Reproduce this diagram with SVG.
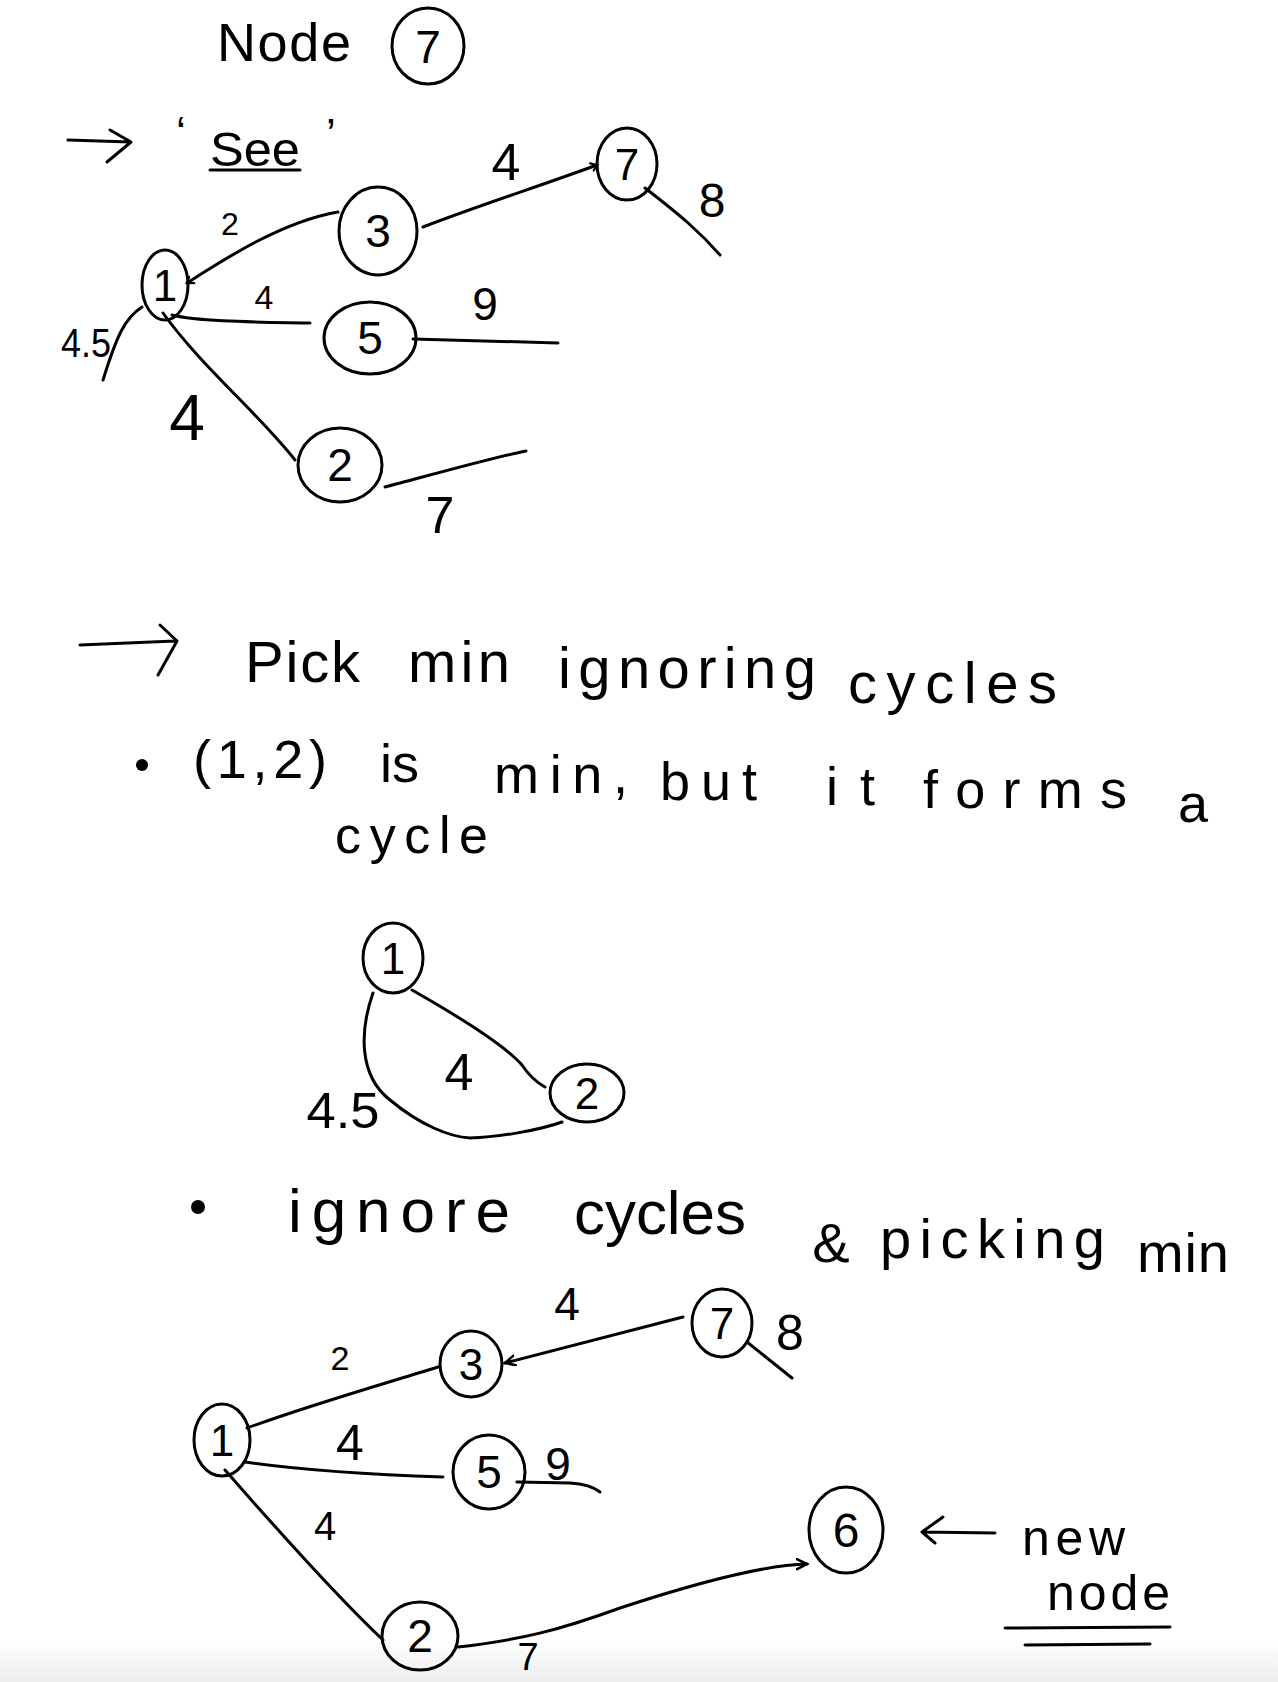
<svg xmlns="http://www.w3.org/2000/svg" width="1278" height="1682" viewBox="0 0 1278 1682">
<style>
.ln{fill:none;stroke:#000;stroke-width:3;stroke-linecap:round;stroke-linejoin:round}
.nd{fill:none;stroke:#000;stroke-width:3}
.t{font-family:"Liberation Sans",Arial,sans-serif;fill:#000}
.c{text-anchor:middle}
</style>
<defs>
<marker id="ah" markerUnits="userSpaceOnUse" markerWidth="16" markerHeight="16" refX="11" refY="6" orient="auto-start-reverse">
<path d="M1,1 L11,6 L1,11" fill="none" stroke="#000" stroke-width="2.5" stroke-linecap="round"/>
</marker>
<marker id="tick" markerUnits="userSpaceOnUse" markerWidth="12" markerHeight="12" refX="8" refY="5" orient="auto-start-reverse">
<path d="M2,1 L8,5 L3,9" fill="none" stroke="#000" stroke-width="2.2" stroke-linecap="round"/>
</marker>
<linearGradient id="fade" x1="0" y1="0" x2="0" y2="1">
<stop offset="0" stop-color="#ffffff"/>
<stop offset="1" stop-color="#ededed"/>
</linearGradient>
</defs>
<rect x="0" y="0" width="1278" height="1682" fill="#ffffff"/>
<rect x="0" y="1640" width="1278" height="42" fill="url(#fade)"/>

<!-- Title -->
<g id="title">
<text class="t" x="217" y="61" font-size="54" textLength="134" lengthAdjust="spacing">Node</text>
<ellipse class="nd" cx="428" cy="46" rx="36" ry="38"/>
<text class="t c" x="428" y="63" font-size="46">7</text>
</g>

<g id="see">
<path class="ln" d="M68,140 L130,142 M110,130 L131,142 L107,162"/>
<text class="t" x="176" y="148" font-size="44">‘</text>
<text class="t" x="210" y="166" font-size="48" textLength="90" lengthAdjust="spacingAndGlyphs">See</text>
<path class="ln" d="M210,170 L300,170"/>
<text class="t" x="326" y="150" font-size="44">’</text>
</g>

<!-- Top graph connectors -->
<g id="top-edges">
<path class="ln" d="M187,283 C220,262 280,222 338,212" marker-start="url(#tick)"/>
<path class="ln" d="M423,227 C480,205 540,186 597,165" marker-end="url(#tick)"/>
<path class="ln" d="M645,188 C680,215 700,232 720,255"/>
<path class="ln" d="M172,315 C200,322 260,322 310,323"/>
<path class="ln" d="M413,339 L558,343"/>
<path class="ln" d="M163,313 C200,365 260,415 295,460"/>
<path class="ln" d="M385,487 C420,478 490,458 526,451"/>
<path class="ln" d="M142,307 C125,318 117,335 103,380"/>
<text class="t c" x="230" y="235" font-size="32">2</text>
<text class="t c" x="506" y="180" font-size="52">4</text>
<text class="t c" x="712" y="217" font-size="48">8</text>
<text class="t c" x="264" y="309" font-size="34">4</text>
<text class="t c" x="485" y="320" font-size="46">9</text>
<text class="t c" x="187" y="440" font-size="64">4</text>
<text class="t c" x="86" y="357" font-size="40" textLength="50" lengthAdjust="spacingAndGlyphs">4.5</text>
<text class="t c" x="440" y="533" font-size="52">7</text>
</g>

<g id="top-n1"><ellipse class="nd" cx="165" cy="285" rx="23" ry="35"/><text class="t c" x="165" y="301" font-size="44">1</text></g>
<g id="top-n3"><ellipse class="nd" cx="378" cy="231" rx="39" ry="44"/><text class="t c" x="378" y="247" font-size="46">3</text></g>
<g id="top-n7"><ellipse class="nd" cx="627" cy="164" rx="30" ry="36"/><text class="t c" x="627" y="180" font-size="44">7</text></g>
<g id="top-n5"><ellipse class="nd" cx="370" cy="338" rx="46" ry="36"/><text class="t c" x="370" y="354" font-size="46">5</text></g>
<g id="top-n2"><ellipse class="nd" cx="340" cy="465" rx="42" ry="37"/><text class="t c" x="340" y="481" font-size="46">2</text></g>

<!-- Middle text -->
<g id="pick">
<path class="ln" d="M80,645 L175,641 M160,625 L177,641 L158,675"/>
<text class="t" y="682" font-size="58">
<tspan x="245" textLength="115" lengthAdjust="spacing">Pick</tspan>
<tspan x="408" textLength="102" lengthAdjust="spacing">min</tspan>
<tspan x="558" y="688" textLength="258" lengthAdjust="spacing">ignoring</tspan>
<tspan x="848" y="703" textLength="209" lengthAdjust="spacing">cycles</tspan>
</text>
</g>
<g id="note1">
<circle cx="142" cy="765" r="6" fill="#000"/>
<text class="t" font-size="54">
<tspan x="193" y="778" textLength="134" lengthAdjust="spacing">(1,2)</tspan>
<tspan x="380" y="782">is</tspan>
<tspan x="494" y="793" textLength="134" lengthAdjust="spacing">min,</tspan>
<tspan x="660" y="800" textLength="97" lengthAdjust="spacing">but</tspan>
<tspan x="826" y="805" textLength="49" lengthAdjust="spacing">it</tspan>
<tspan x="923" y="808" textLength="204" lengthAdjust="spacing">forms</tspan>
<tspan x="1178" y="822">a</tspan>
</text>
<text class="t" x="335" y="853" font-size="52" textLength="153" lengthAdjust="spacing">cycle</text>
</g>

<!-- Cycle graph -->
<g id="cycle-edges">
<path class="ln" d="M412,990 Q500,1040 522,1065 Q532,1080 545,1087"/>
<path class="ln" d="M373,993 C360,1030 358,1075 390,1100 C420,1125 450,1137 470,1138 C500,1137 540,1130 562,1122"/>
<text class="t c" x="459" y="1090" font-size="52">4</text>
<text class="t c" x="343" y="1128" font-size="50" textLength="73" lengthAdjust="spacingAndGlyphs">4.5</text>
</g>
<g id="cyc-n1"><ellipse class="nd" cx="393" cy="958" rx="30" ry="35"/><text class="t c" x="393" y="974" font-size="44">1</text></g>
<g id="cyc-n2"><ellipse class="nd" cx="587" cy="1093" rx="37" ry="29"/><text class="t c" x="587" y="1109" font-size="44">2</text></g>

<!-- Bottom text -->
<g id="note2">
<circle cx="198" cy="1207" r="7" fill="#000"/>
<text class="t" font-size="62">
<tspan x="288" y="1232" textLength="222" lengthAdjust="spacing">ignore</tspan>
<tspan x="574" y="1234" textLength="172" lengthAdjust="spacing">cycles</tspan>
</text>
<text class="t c" x="831" y="1262" font-size="56">&amp;</text>
<text class="t" font-size="56">
<tspan x="880" y="1258" textLength="225" lengthAdjust="spacing">picking</tspan>
<tspan x="1137" y="1272" textLength="92" lengthAdjust="spacing">min</tspan>
</text>
</g>

<!-- Bottom graph connectors -->
<g id="bottom-edges">
<path class="ln" d="M247,1428 C310,1405 380,1385 438,1367"/>
<path class="ln" d="M683,1317 L505,1363" marker-end="url(#ah)"/>
<path class="ln" d="M747,1342 L792,1378"/>
<path class="ln" d="M245,1462 C300,1470 383,1475 443,1477"/>
<path class="ln" d="M517,1482 L570,1483 C585,1484 595,1488 600,1492"/>
<path class="ln" d="M225,1470 C260,1510 330,1590 383,1640"/>
<path class="ln" d="M458,1647 C520,1640 560,1630 620,1608 C690,1585 760,1565 807,1564" marker-end="url(#ah)"/>
<text class="t c" x="340" y="1370" font-size="34">2</text>
<text class="t c" x="567" y="1320" font-size="46">4</text>
<text class="t c" x="790" y="1350" font-size="50">8</text>
<text class="t c" x="350" y="1460" font-size="50">4</text>
<text class="t c" x="558" y="1480" font-size="46">9</text>
<text class="t c" x="325" y="1540" font-size="40">4</text>
<text class="t c" x="528" y="1670" font-size="38">7</text>
</g>
<g id="bot-n1"><ellipse class="nd" cx="222" cy="1440" rx="28" ry="36"/><text class="t c" x="222" y="1456" font-size="44">1</text></g>
<g id="bot-n3"><ellipse class="nd" cx="471" cy="1364" rx="31" ry="33"/><text class="t c" x="471" y="1380" font-size="44">3</text></g>
<g id="bot-n7"><ellipse class="nd" cx="722" cy="1323" rx="30" ry="34"/><text class="t c" x="722" y="1339" font-size="44">7</text></g>
<g id="bot-n5"><ellipse class="nd" cx="489" cy="1472" rx="36" ry="37"/><text class="t c" x="489" y="1488" font-size="46">5</text></g>
<g id="bot-n6"><ellipse class="nd" cx="846" cy="1530" rx="37" ry="43"/><text class="t c" x="846" y="1547" font-size="48">6</text></g>
<g id="bot-n2"><ellipse class="nd" cx="420" cy="1636" rx="38" ry="34"/><text class="t c" x="420" y="1652" font-size="46">2</text></g>

<g id="newnode">
<path class="ln" d="M995,1533 L922,1532 M943,1517 L922,1532 L935,1543"/>
<text class="t" x="1022" y="1555" font-size="50" textLength="103" lengthAdjust="spacing">new</text>
<text class="t" x="1047" y="1610" font-size="50" textLength="123" lengthAdjust="spacing">node</text>
<path class="ln" d="M1005,1628 L1170,1627 M1025,1645 L1150,1644"/>
</g>
</svg>
